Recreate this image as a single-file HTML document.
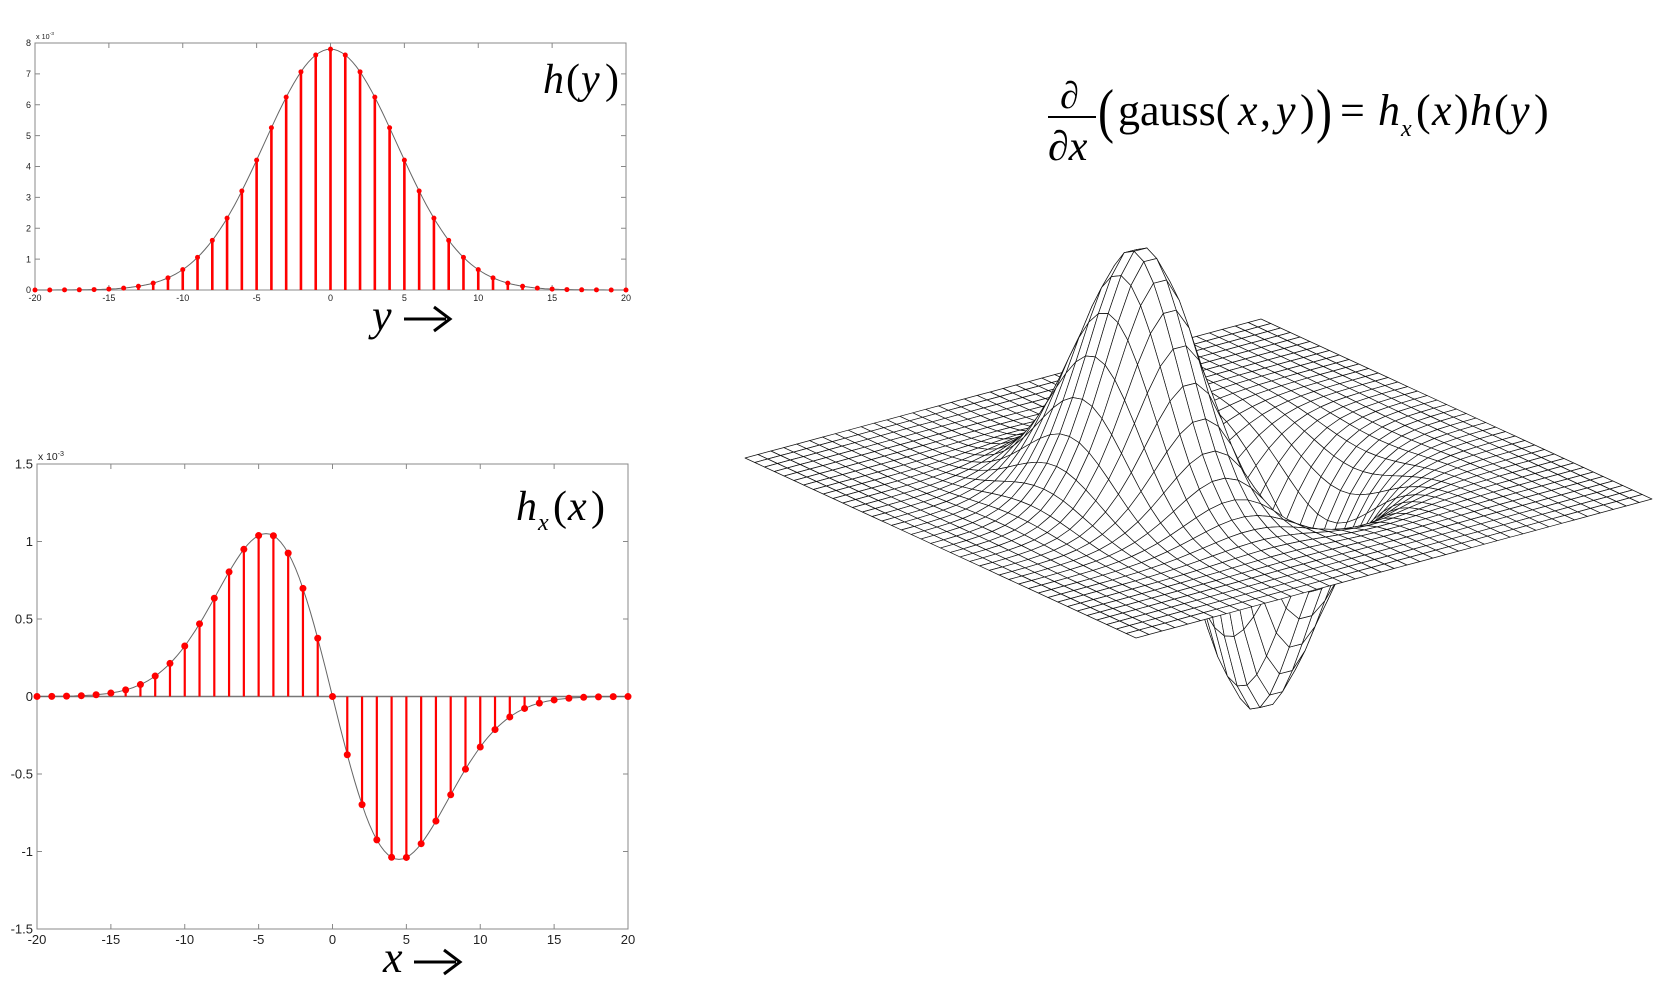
<!DOCTYPE html>
<html><head><meta charset="utf-8">
<style>
html,body{margin:0;padding:0;background:#fff;}
svg{display:block;}
.tk{font-family:"Liberation Sans",sans-serif;fill:#222;}
.m{font-family:"Liberation Serif",serif;fill:#000;}
</style></head>
<body>
<svg id="s" width="1660" height="988" viewBox="0 0 1660 988" xmlns="http://www.w3.org/2000/svg">
<rect width="1660" height="988" fill="#fff"/>
<g id="g1"></g><g id="g2"></g><g id="g3"></g>
<!-- labels -->
<text class="m" x="543" y="93" font-size="42" font-style="italic">h</text>
<text class="m" x="566" y="93" font-size="42">(</text>
<text class="m" x="581" y="93" font-size="42" font-style="italic">y</text>
<text class="m" x="605" y="93" font-size="42">)</text>
<text class="m" x="372" y="330" font-size="44" font-style="italic">y</text>
<path d="M404,319 L446,319" stroke="#000" stroke-width="3"/>
<path d="M434,307 L450,319 L434,331" stroke="#000" stroke-width="3" fill="none"/>
<text class="m" x="516" y="520" font-size="42" font-style="italic">h</text>
<text class="m" x="538" y="530" font-size="24" font-style="italic">x</text>
<text class="m" x="553" y="520" font-size="42">(</text>
<text class="m" x="568" y="520" font-size="42" font-style="italic">x</text>
<text class="m" x="591" y="520" font-size="42">)</text>
<text class="m" x="383" y="972" font-size="44" font-style="italic">x</text>
<path d="M414,962 L456,962" stroke="#000" stroke-width="3"/>
<path d="M444,950 L460,962 L444,974" stroke="#000" stroke-width="3" fill="none"/>
<!-- formula -->
<text class="m" x="1060" y="108" font-size="38" font-style="italic">∂</text>
<line x1="1048" y1="117" x2="1096" y2="117" stroke="#000" stroke-width="2"/>
<text class="m" x="1048" y="160" font-size="42" font-style="italic">∂x</text>
<text class="m" x="1098" y="131" font-size="48" transform="translate(1098,131) scale(1,1.25) translate(-1098,-131)">(</text>
<text class="m" x="1118" y="125" font-size="44">gauss(</text>
<text class="m" x="1238" y="125" font-size="44" font-style="italic">x</text>
<text class="m" x="1260" y="125" font-size="44">,</text>
<text class="m" x="1276" y="125" font-size="44" font-style="italic">y</text>
<text class="m" x="1300" y="125" font-size="44">)</text>
<text class="m" x="1316" y="131" font-size="48" transform="translate(1316,131) scale(1,1.25) translate(-1316,-131)">)</text>
<text class="m" x="1340" y="125" font-size="44">=</text>
<text class="m" x="1378" y="125" font-size="44" font-style="italic">h</text>
<text class="m" x="1401" y="136" font-size="24" font-style="italic">x</text>
<text class="m" x="1416" y="125" font-size="44">(</text>
<text class="m" x="1432" y="125" font-size="44" font-style="italic">x</text>
<text class="m" x="1454" y="125" font-size="44">)</text>
<text class="m" x="1470" y="125" font-size="44" font-style="italic">h</text>
<text class="m" x="1494" y="125" font-size="44">(</text>
<text class="m" x="1510" y="125" font-size="44" font-style="italic">y</text>
<text class="m" x="1534" y="125" font-size="44">)</text>
</svg>
<script>
var NS="http://www.w3.org/2000/svg";
function el(p,t,a,txt){var e=document.createElementNS(NS,t);for(var k in a)e.setAttribute(k,a[k]);if(txt!=null)e.textContent=txt;p.appendChild(e);return e;}
function plot(g,L,R,T,B,ymin,ymax,yticks,fn,fs,r,sw){
  var X=function(v){return L+(v+20)/40*(R-L);}, Y=function(v){return B-(v-ymin)/(ymax-ymin)*(B-T);};
  el(g,"rect",{x:L,y:T,width:R-L,height:B-T,fill:"none",stroke:"#888","stroke-width":1});
  for(var t=-20;t<=20;t+=5){el(g,"line",{x1:X(t),y1:B,x2:X(t),y2:B-5,stroke:"#888"});el(g,"line",{x1:X(t),y1:T,x2:X(t),y2:T+5,stroke:"#888"});
    el(g,"text",{x:X(t),y:B+fs+2,"text-anchor":"middle","font-size":fs,"class":"tk"},String(t));}
  yticks.forEach(function(t){el(g,"line",{x1:L,y1:Y(t),x2:L+5,y2:Y(t),stroke:"#888"});el(g,"line",{x1:R,y1:Y(t),x2:R-5,y2:Y(t),stroke:"#888"});
    el(g,"text",{x:L-4,y:Y(t)+fs*0.35,"text-anchor":"end","font-size":fs,"class":"tk"},String(t));});
  var t0=el(g,"text",{x:L+1,y:T-4,"font-size":fs*0.8,"class":"tk"},"x 10");el(t0,"tspan",{dy:-4,"font-size":fs*0.55},"-3");
  if(ymin<0) el(g,"line",{x1:L,y1:Y(0),x2:R,y2:Y(0),stroke:"#777","stroke-width":1.5});
  var d="";for(var v=-20;v<=20.001;v+=0.25){d+=(d?"L":"M")+X(v).toFixed(1)+","+Y(fn(v)).toFixed(1);}
  el(g,"path",{d:d,fill:"none",stroke:"#666","stroke-width":1});
  for(var i=-20;i<=20;i++){el(g,"line",{x1:X(i),y1:Y(0),x2:X(i),y2:Y(fn(i)),stroke:"#f00","stroke-width":sw});
    el(g,"circle",{cx:X(i),cy:Y(fn(i)),r:r,fill:"#f00"});}
}
var s2=2*20.25;
plot(document.getElementById("g1"),35,626,43,290,0,8,[0,1,2,3,4,5,6,7,8],function(v){return 7.8*Math.exp(-v*v/s2);},9,2.5,2.6);
plot(document.getElementById("g2"),37,628,464,929,-1.5,1.5,[-1.5,-1,-0.5,0,0.5,1,1.5],function(v){return -0.385*v*Math.exp(-v*v/s2);},13,3.5,2.2);
// 3D surface
var g3=document.getElementById("g3");
var Lx=745,Ly=458,Fx=1136,Fy=638,Bx=1261,By=319,N=40;
function P(i,j){var u=i/N,v=j/N;var a=(u-0.5)*40,b=(v-0.5)*40;
  var z=-0.385*b*Math.exp(-(a*a+b*b)/s2)/1.04*245;
  var by=Ly+u*(Fy-Ly)+v*(By-Ly);
  return [Lx+u*(Fx-Lx)+v*(Bx-Lx),by-z,by];}
var pts=[];for(var i=0;i<=N;i++){pts[i]=[];for(var j=0;j<=N;j++)pts[i][j]=P(i,j);}
var q=[];for(var i=0;i<N;i++)for(var j=0;j<N;j++){var a=pts[i][j],b=pts[i+1][j],c=pts[i+1][j+1],d=pts[i][j+1];q.push([(a[2]+b[2]+c[2]+d[2])/4,a,b,c,d]);}
q.sort(function(x,y){return x[0]-y[0];});
var frag=document.createDocumentFragment();
q.forEach(function(o){var s="";for(var k=1;k<5;k++)s+=o[k][0].toFixed(1)+","+o[k][1].toFixed(1)+" ";
  var e=document.createElementNS(NS,"polygon");e.setAttribute("points",s);e.setAttribute("fill","#fff");e.setAttribute("stroke","#111");e.setAttribute("stroke-width","0.7");e.setAttribute("stroke-linejoin","round");frag.appendChild(e);});
g3.appendChild(frag);
</script>
</body></html>
